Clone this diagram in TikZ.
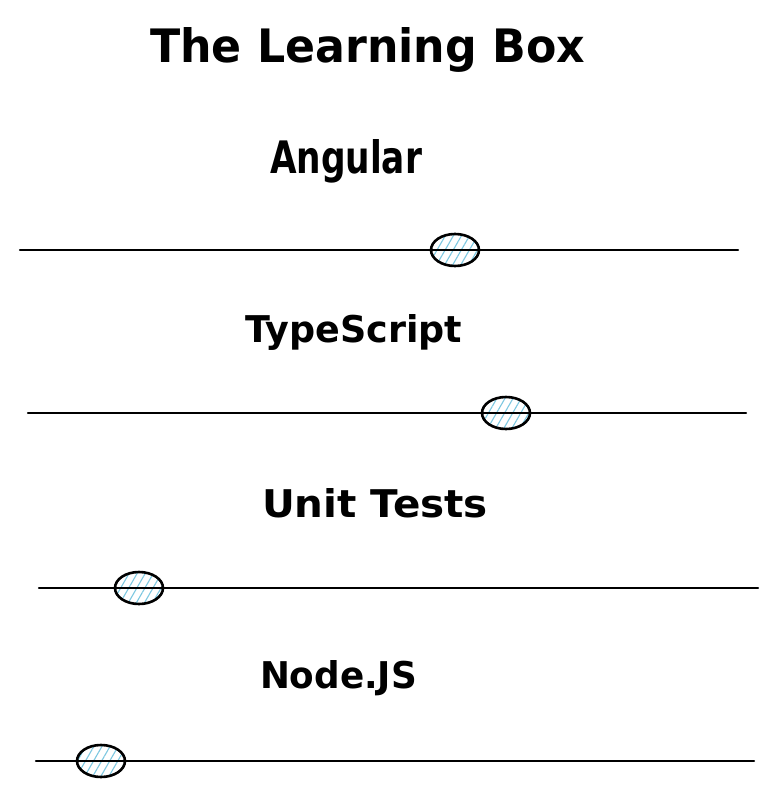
\documentclass[tikz,border=0pt]{standalone}
\usepackage{fontspec}
\setmainfont{DejaVu Sans}
\usetikzlibrary{patterns.meta,shapes.geometric}
\definecolor{hatch}{RGB}{125,200,225}
\newcommand{\fitto}[3]{\resizebox{#1}{#2}{\bfseries #3}}
\begin{document}
\begin{tikzpicture}[x=1pt,y=-1pt,
  track/.style={line width=2.2pt, line cap=round},
  knob/.style={draw=black, line width=2.6pt, ellipse, minimum width=48pt, minimum height=32pt, inner sep=0pt,
    preaction={fill=white}, pattern={Lines[angle=60,distance=7pt,line width=1.1pt]}, pattern color=hatch},
  txt/.style={anchor=base west, inner sep=0pt, outer sep=0pt}]
\useasboundingbox (0,0) rectangle (777,797);
\node[txt] (t) at (150,63) {\fitto{435pt}{35pt}{The Learning Box}};
\node[txt] (l1) at (270,173) {\fitto{152pt}{34pt}{Angular}};
\node[txt] (l2) at (245,342) {\fitto{217pt}{28pt}{TypeScript}};
\node[txt] (l3) at (262,517) {\fitto{226pt}{29pt}{Unit Tests}};
\node[txt] (l4) at (260,688) {\fitto{157pt}{28pt}{Node.JS}};
\coordinate (a1) at (20,250); \coordinate (b1) at (738,250);
\coordinate (a2) at (28,413); \coordinate (b2) at (746,413);
\coordinate (a3) at (39,588); \coordinate (b3) at (758,588);
\coordinate (a4) at (36,761); \coordinate (b4) at (754,761);
\draw[track] (a1) -- (b1);
\draw[track] (a2) -- (b2);
\draw[track] (a3) -- (b3);
\draw[track] (a4) -- (b4);
\node[knob] (k1) at (455,250) {};
\node[knob] (k2) at (506,413) {};
\node[knob] (k3) at (139,588) {};
\node[knob] (k4) at (101,761) {};
\draw[line width=2.2pt] (k1.west) -- (k1.east);
\draw[line width=2.2pt] (k2.west) -- (k2.east);
\draw[line width=2.2pt] (k3.west) -- (k3.east);
\draw[line width=2.2pt] (k4.west) -- (k4.east);
\end{tikzpicture}
\end{document}
